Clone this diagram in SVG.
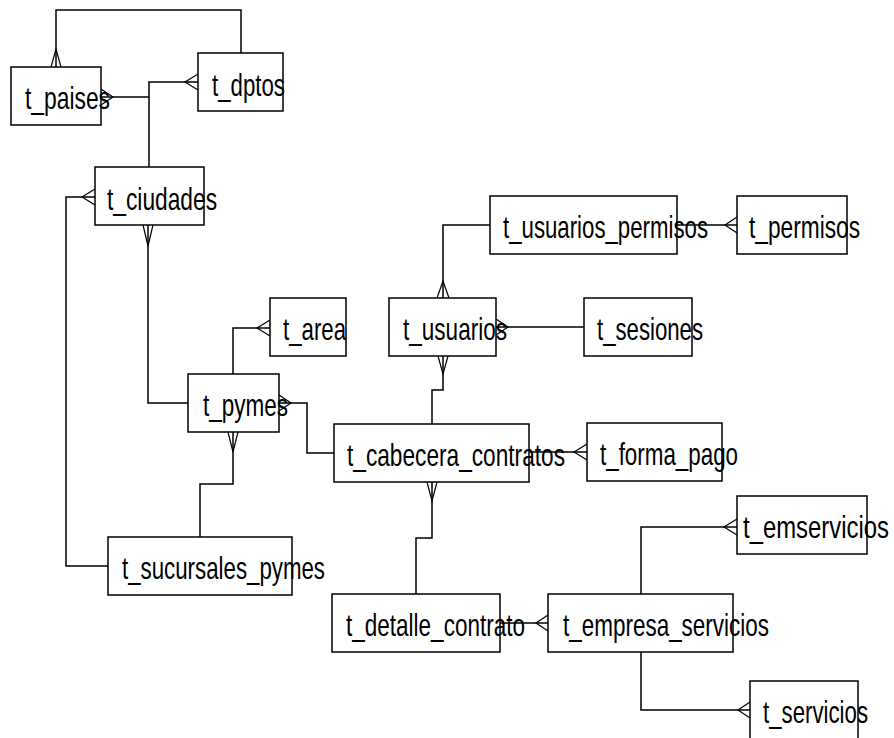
<svg xmlns="http://www.w3.org/2000/svg" width="894" height="738" viewBox="0 0 894 738">
  <style>
    .box { fill: none; stroke: #000; stroke-width: 1.5; }
    .lbl { font-family: "Liberation Sans", Arial, sans-serif; font-size: 32px; fill: #000; }
    .wire { fill: none; stroke: #000; stroke-width: 1.5; }
    .crow { fill: none; stroke: #000; stroke-width: 1.2; }
  </style>
  <rect width="894" height="738" fill="#fff"/>

  <g id="connectors">
    <!-- t_paises <-> t_dptos loop over the top -->
    <path class="wire" d="M56,67 V10 H241 V53"/>
    <path class="crow" d="M51,67 L56,49 L61,67"/>
    <!-- t_ciudades up to t_paises and t_dptos -->
    <path class="wire" d="M149,167 V82 H198"/>
    <path class="wire" d="M101,97 H149"/>
    <path class="crow" d="M101,89 L113,97 L101,105"/>
    <path class="crow" d="M198,74 L185,82 L198,90"/>
    <!-- t_ciudades to t_sucursales_pymes -->
    <path class="wire" d="M95,197 H66 V566 H108"/>
    <path class="crow" d="M95,189 L82,197 L95,205"/>
    <!-- t_ciudades to t_pymes -->
    <path class="wire" d="M148,225 V403 H188"/>
    <path class="crow" d="M143,225 L148,246 L153,225"/>
    <!-- t_area to t_pymes -->
    <path class="wire" d="M270,328 H233 V374"/>
    <path class="crow" d="M270,320 L257,328 L270,336"/>
    <!-- t_pymes to t_cabecera_contratos -->
    <path class="wire" d="M279,403 H307 V453 H334"/>
    <path class="crow" d="M279,395 L291,403 L279,411"/>
    <!-- t_pymes to t_sucursales_pymes -->
    <path class="wire" d="M233,432 V484 H200 V537"/>
    <path class="crow" d="M228,432 L233,452 L238,432"/>
    <!-- t_usuarios_permisos to t_usuarios -->
    <path class="wire" d="M490,225 H443 V298"/>
    <path class="crow" d="M437,298 L443,281 L449,298"/>
    <!-- t_permisos to t_usuarios_permisos -->
    <path class="wire" d="M677,225 H737"/>
    <path class="crow" d="M737,217 L725,225 L737,233"/>
    <!-- t_sesiones to t_usuarios -->
    <path class="wire" d="M584,327 H496"/>
    <path class="crow" d="M496,319 L508,327 L496,335"/>
    <!-- t_usuarios to t_cabecera_contratos -->
    <path class="wire" d="M443,356 V390 H432 V424"/>
    <path class="crow" d="M438,356 L443,374 L448,356"/>
    <!-- t_forma_pago to t_cabecera_contratos -->
    <path class="wire" d="M529,452 H587"/>
    <path class="crow" d="M587,444 L574,452 L587,460"/>
    <!-- t_cabecera_contratos to t_detalle_contrato -->
    <path class="wire" d="M432,482 V538 H416 V594"/>
    <path class="crow" d="M427,482 L432,501 L437,482"/>
    <!-- t_detalle_contrato to t_empresa_servicios -->
    <path class="wire" d="M500,623 H548"/>
    <path class="crow" d="M548,615 L536,623 L548,631"/>
    <!-- t_empresa_servicios to t_emservicios -->
    <path class="wire" d="M641,594 V527 H737"/>
    <path class="crow" d="M737,519 L724,527 L737,535"/>
    <!-- t_empresa_servicios to t_servicios -->
    <path class="wire" d="M641,652 V710 H750"/>
    <path class="crow" d="M750,702 L738,710 L750,718"/>
  </g>

  <g id="t_paises"><rect class="box" x="11" y="67" width="90" height="58"/><text class="lbl" x="25" y="109" textLength="85" lengthAdjust="spacingAndGlyphs">t_paises</text></g>
  <g id="t_dptos"><rect class="box" x="198" y="53" width="85" height="58"/><text class="lbl" x="212" y="96" textLength="73" lengthAdjust="spacingAndGlyphs">t_dptos</text></g>
  <g id="t_ciudades"><rect class="box" x="95" y="167" width="109" height="58"/><text class="lbl" x="107" y="210" textLength="110" lengthAdjust="spacingAndGlyphs">t_ciudades</text></g>
  <g id="t_area"><rect class="box" x="270" y="298" width="76" height="58"/><text class="lbl" x="283" y="340" textLength="63" lengthAdjust="spacingAndGlyphs">t_area</text></g>
  <g id="t_pymes"><rect class="box" x="188" y="374" width="91" height="58"/><text class="lbl" x="203" y="416" textLength="85" lengthAdjust="spacingAndGlyphs">t_pymes</text></g>
  <g id="t_sucursales_pymes"><rect class="box" x="108" y="537" width="184" height="58"/><text class="lbl" x="122" y="579" textLength="203" lengthAdjust="spacingAndGlyphs">t_sucursales_pymes</text></g>
  <g id="t_usuarios_permisos"><rect class="box" x="490" y="196" width="187" height="58"/><text class="lbl" x="503" y="238" textLength="205" lengthAdjust="spacingAndGlyphs">t_usuarios_permisos</text></g>
  <g id="t_permisos"><rect class="box" x="737" y="196" width="110" height="58"/><text class="lbl" x="749" y="238" textLength="111" lengthAdjust="spacingAndGlyphs">t_permisos</text></g>
  <g id="t_usuarios"><rect class="box" x="389" y="298" width="107" height="58"/><text class="lbl" x="403" y="340" textLength="104" lengthAdjust="spacingAndGlyphs">t_usuarios</text></g>
  <g id="t_sesiones"><rect class="box" x="584" y="298" width="108" height="58"/><text class="lbl" x="597" y="340" textLength="106" lengthAdjust="spacingAndGlyphs">t_sesiones</text></g>
  <g id="t_cabecera_contratos"><rect class="box" x="334" y="424" width="195" height="58"/><text class="lbl" x="347" y="466" textLength="218" lengthAdjust="spacingAndGlyphs">t_cabecera_contratos</text></g>
  <g id="t_forma_pago"><rect class="box" x="587" y="423" width="135" height="58"/><text class="lbl" x="600" y="465" textLength="138" lengthAdjust="spacingAndGlyphs">t_forma_pago</text></g>
  <g id="t_emservicios"><rect class="box" x="737" y="496" width="130" height="58"/><text class="lbl" x="743" y="538" textLength="146" lengthAdjust="spacingAndGlyphs">t_emservicios</text></g>
  <g id="t_detalle_contrato"><rect class="box" x="332" y="594" width="168" height="58"/><text class="lbl" x="346" y="636" textLength="179" lengthAdjust="spacingAndGlyphs">t_detalle_contrato</text></g>
  <g id="t_empresa_servicios"><rect class="box" x="548" y="594" width="185" height="58"/><text class="lbl" x="563" y="636" textLength="206" lengthAdjust="spacingAndGlyphs">t_empresa_servicios</text></g>
  <g id="t_servicios"><rect class="box" x="750" y="681" width="108" height="58"/><text class="lbl" x="763" y="723" textLength="105" lengthAdjust="spacingAndGlyphs">t_servicios</text></g>
</svg>
